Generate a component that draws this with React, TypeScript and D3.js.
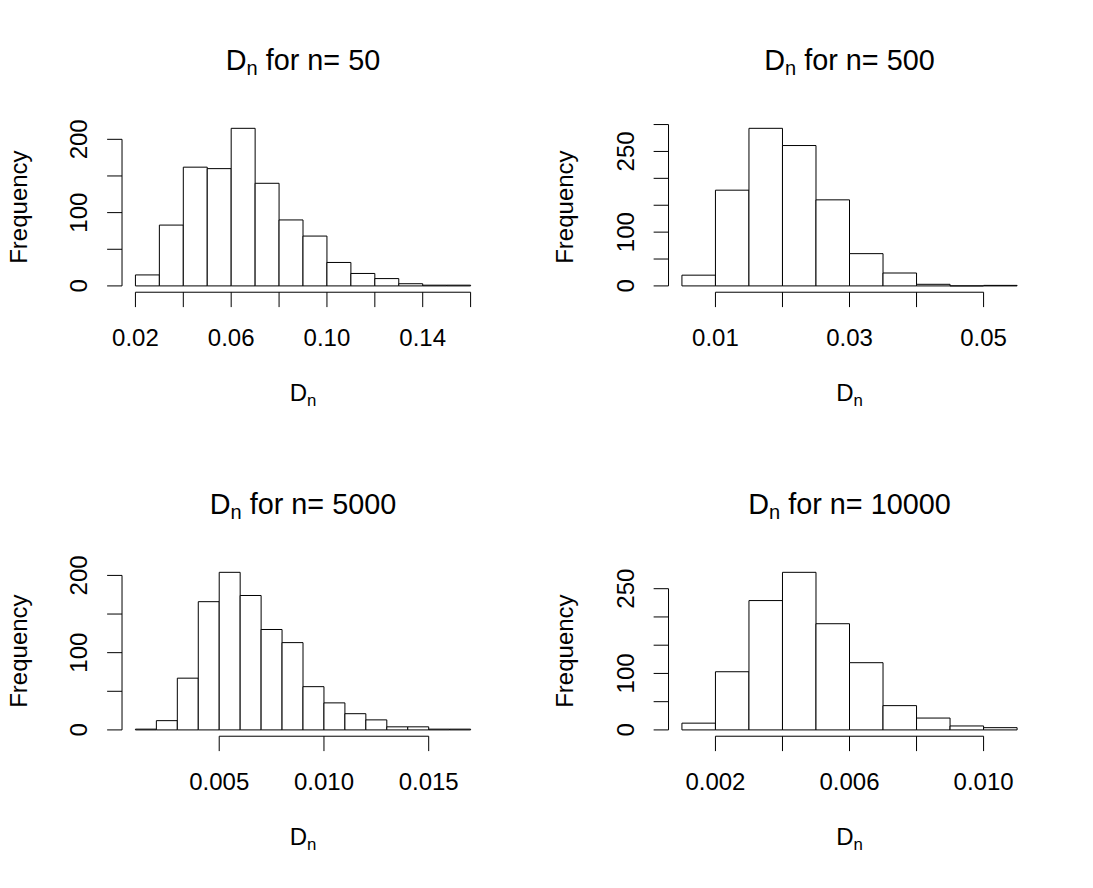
import * as d3 from "d3";

// Histogram data (bin edges and frequencies), one set per sample size
const breaks50 = [0.02, 0.03, 0.04, 0.05, 0.06, 0.07, 0.08, 0.09, 0.1, 0.11, 0.12, 0.13, 0.14, 0.15, 0.16];
const counts50 = [15, 83, 162, 160, 215, 140, 90, 68, 32, 17, 10, 3, 1, 1];
const xTicks50 = [0.02, 0.04, 0.06, 0.08, 0.1, 0.12, 0.14, 0.16];
const xLabels50 = ["0.02", "", "0.06", "", "0.10", "", "0.14", ""];
const yTicks50 = [0, 50, 100, 150, 200];
const yLabels50 = ["0", "", "100", "", "200"];

const breaks500 = [0.005, 0.01, 0.015, 0.02, 0.025, 0.03, 0.035, 0.04, 0.045, 0.05, 0.055];
const counts500 = [20, 178, 293, 261, 160, 60, 24, 3, 0, 1];
const xTicks500 = [0.01, 0.02, 0.03, 0.04, 0.05];
const xLabels500 = ["0.01", "", "0.03", "", "0.05"];
const yTicks500 = [0, 50, 100, 150, 200, 250, 300];
const yLabels500 = ["0", "", "100", "", "", "250", ""];

const breaks5000 = [0.001, 0.002, 0.003, 0.004, 0.005, 0.006, 0.007, 0.008, 0.009, 0.01, 0.011, 0.012, 0.013, 0.014, 0.015, 0.016, 0.017];
const counts5000 = [1, 12, 67, 166, 204, 174, 130, 113, 56, 35, 21, 13, 4, 4, 1, 1];
const xTicks5000 = [0.005, 0.01, 0.015];
const xLabels5000 = ["0.005", "0.010", "0.015"];
const yTicks5000 = [0, 50, 100, 150, 200];
const yLabels5000 = ["0", "", "100", "", "200"];

const breaks10000 = [0.001, 0.002, 0.003, 0.004, 0.005, 0.006, 0.007, 0.008, 0.009, 0.01, 0.011];
const counts10000 = [12, 103, 229, 279, 188, 119, 43, 21, 7, 4];
const xTicks10000 = [0.002, 0.004, 0.006, 0.008, 0.01];
const xLabels10000 = ["0.002", "", "0.006", "", "0.010"];
const yTicks10000 = [0, 50, 100, 150, 200, 250];
const yLabels10000 = ["0", "", "100", "", "", "250"];

const W = 1093;
const H = 888;
const PW = W / 2;
const PH = H / 2;
const LINE = 29.76; // one margin line in px
const FONT = "'Liberation Sans', Arial, sans-serif";

type PanelProps = {
  ox: number;
  oy: number;
  n: string;
  breaks: number[];
  counts: number[];
  xTicks: number[];
  xLabels: string[];
  yTicks: number[];
  yLabels: string[];
};

function Panel({ ox, oy, n, breaks, counts, xTicks, xLabels, yTicks, yLabels }: PanelProps) {
  const left = 4.1 * LINE;
  const right = PW - 2.1 * LINE;
  const top = 4.1 * LINE;
  const bottom = PH - 5.1 * LINE;

  // R style 4% axis extension
  const lo = breaks[0];
  const hi = breaks[breaks.length - 1];
  const maxC = d3.max(counts) ?? 1;
  const x = d3.scaleLinear().domain([lo - 0.04 * (hi - lo), hi + 0.04 * (hi - lo)]).range([left, right]);
  const y = d3.scaleLinear().domain([-0.04 * maxC, 1.04 * maxC]).range([bottom, top]);

  const tick = 0.5 * LINE;
  const cx = (left + right) / 2;

  return (
    <g transform={`translate(${ox},${oy})`} fontFamily={FONT} fill="black">
      {/* Title */}
      <text x={cx} y={top - 52} textAnchor="middle" fontSize={28.8}>
        D<tspan fontSize={20} dy={5}>n</tspan>
        <tspan dy={-5}> for n= {n}</tspan>
      </text>

      {/* Bars: outlined as paths so empty bins still show their base */}
      {counts.map((c, i) => {
        const x0 = x(breaks[i]);
        const x1 = x(breaks[i + 1]);
        return (
          <path
            key={i}
            d={`M${x0},${y(0)}V${y(c)}H${x1}V${y(0)}Z`}
            fill="white"
            stroke="black"
            strokeWidth={1}
          />
        );
      })}

      {/* X axis */}
      <line x1={x(xTicks[0])} x2={x(xTicks[xTicks.length - 1])} y1={bottom} y2={bottom} stroke="black" />
      {xTicks.map((t, i) => (
        <g key={i}>
          <line x1={x(t)} x2={x(t)} y1={bottom} y2={bottom + tick} stroke="black" />
          {xLabels[i] && (
            <text x={x(t)} y={bottom + 54} textAnchor="middle" fontSize={24}>
              {xLabels[i]}
            </text>
          )}
        </g>
      ))}
      <text x={cx} y={bottom + 109} textAnchor="middle" fontSize={24}>
        D<tspan fontSize={16.8} dy={5}>n</tspan>
      </text>

      {/* Y axis */}
      <line x1={left} x2={left} y1={y(yTicks[0])} y2={y(yTicks[yTicks.length - 1])} stroke="black" />
      {yTicks.map((t, i) => (
        <g key={i}>
          <line x1={left - tick} x2={left} y1={y(t)} y2={y(t)} stroke="black" />
          {yLabels[i] && (
            <text
              transform={`translate(${left - 34.7},${y(t)}) rotate(-90)`}
              textAnchor="middle"
              fontSize={24}
            >
              {yLabels[i]}
            </text>
          )}
        </g>
      ))}
      <text
        transform={`translate(${left - 95.3},${(top + bottom) / 2}) rotate(-90)`}
        textAnchor="middle"
        fontSize={24}
      >
        Frequency
      </text>
    </g>
  );
}

export default function App() {
  return (
    <svg
      width={W}
      height={H}
      viewBox={`0 0 ${W} ${H}`}
      style={{ position: "absolute", left: 0, top: 0, background: "white" }}
    >
      <rect width={W} height={H} fill="white" />
      <Panel ox={0} oy={0} n="50" breaks={breaks50} counts={counts50}
        xTicks={xTicks50} xLabels={xLabels50} yTicks={yTicks50} yLabels={yLabels50} />
      <Panel ox={PW} oy={0} n="500" breaks={breaks500} counts={counts500}
        xTicks={xTicks500} xLabels={xLabels500} yTicks={yTicks500} yLabels={yLabels500} />
      <Panel ox={0} oy={PH} n="5000" breaks={breaks5000} counts={counts5000}
        xTicks={xTicks5000} xLabels={xLabels5000} yTicks={yTicks5000} yLabels={yLabels5000} />
      <Panel ox={PW} oy={PH} n="10000" breaks={breaks10000} counts={counts10000}
        xTicks={xTicks10000} xLabels={xLabels10000} yTicks={yTicks10000} yLabels={yLabels10000} />
    </svg>
  );
}
